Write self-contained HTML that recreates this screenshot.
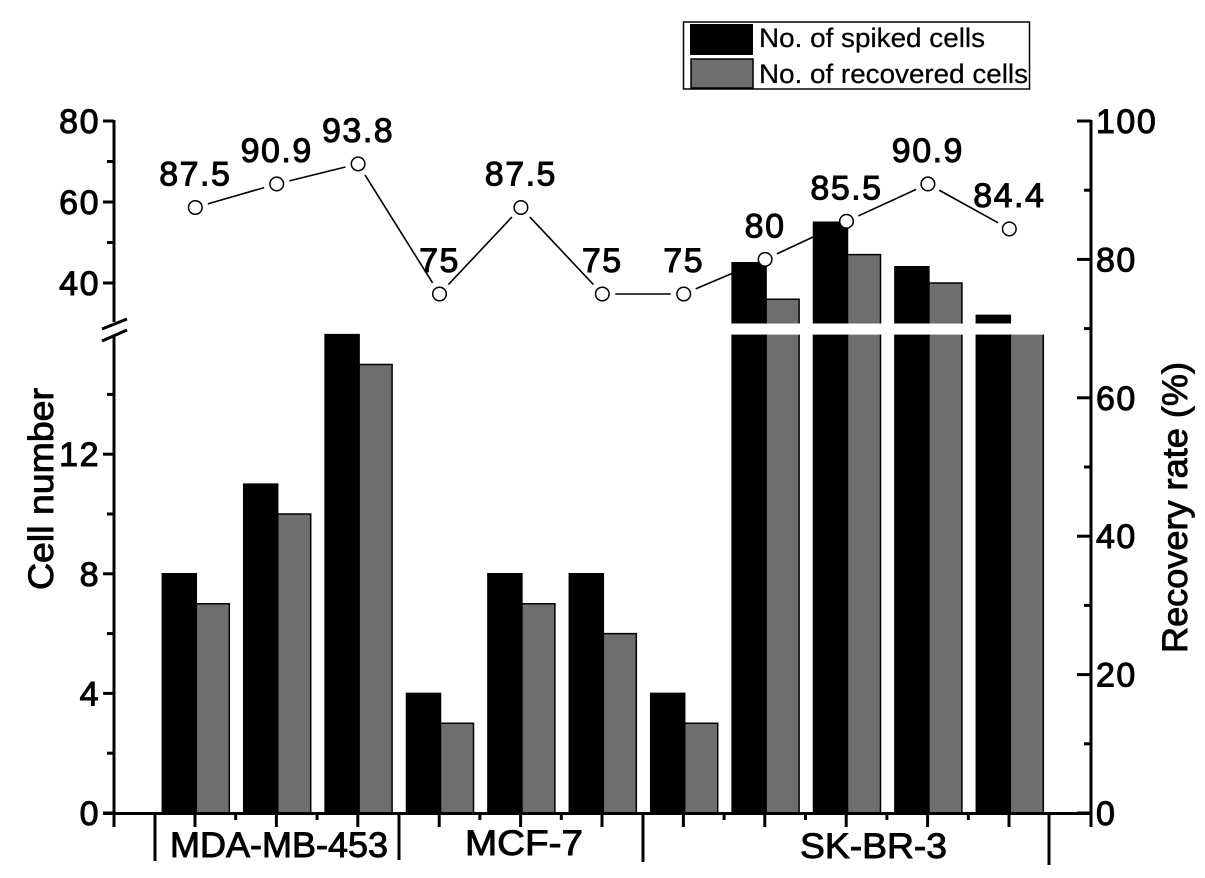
<!DOCTYPE html>
<html>
<head>
<meta charset="utf-8">
<title>Cell number and recovery rate</title>
<style>
html,body{margin:0;padding:0;background:#fff;}
svg{display:block;}
text{font-family:"Liberation Sans",sans-serif;fill:#000;}
.num{font-size:34px;stroke:#000;stroke-width:1px;letter-spacing:1.5px;}
.title{font-size:35px;stroke:#000;stroke-width:.9px;}
.leg{font-size:27px;stroke:#000;stroke-width:.25px;}
</style>
</head>
<body>
<svg id="chart" xmlns="http://www.w3.org/2000/svg" width="1205" height="878" viewBox="0 0 1205 878">
  <rect x="0" y="0" width="1205" height="878" fill="#fff"/>
  <g id="bars"></g>
  <g id="axes" stroke="#000" stroke-width="3" fill="none">
    <line x1="114" y1="120" x2="114" y2="322"/>
    <line x1="114" y1="337" x2="114" y2="827"/>
    <line x1="102" y1="329" x2="127" y2="319"/>
    <line x1="102" y1="341" x2="127" y2="330"/>
    <line x1="1091" y1="120" x2="1091" y2="827"/>
    <line x1="103" y1="813.5" x2="1091" y2="813.5"/>
    <line x1="155" y1="813" x2="155" y2="861"/>
    <line x1="399" y1="813" x2="399" y2="860"/>
    <line x1="643" y1="813" x2="643" y2="862"/>
    <line x1="1049" y1="813" x2="1049" y2="865"/>
  </g>
  <g id="ticks" stroke="#000" stroke-width="3"></g>
  <g id="tick-labels"></g>
  <g id="line-series"></g>
  <text class="title" transform="translate(53,590) rotate(-90)" textLength="202" lengthAdjust="spacingAndGlyphs">Cell number</text>
  <text class="title" transform="translate(1187,653) rotate(-90)" textLength="291" lengthAdjust="spacingAndGlyphs">Recovery rate (%)</text>
  <text class="title" x="170" y="857" textLength="218" lengthAdjust="spacingAndGlyphs">MDA-MB-453</text>
  <text class="title" x="465" y="855" textLength="118" lengthAdjust="spacingAndGlyphs">MCF-7</text>
  <text class="title" x="800" y="858" textLength="147" lengthAdjust="spacingAndGlyphs">SK-BR-3</text>
  <g>
    <rect x="683.5" y="22" width="346" height="67" fill="#fff" stroke="#000" stroke-width="1.5"/>
    <rect x="690" y="24" width="63" height="31" fill="#000"/>
    <rect x="691" y="59" width="62" height="29" fill="#6e6e6e" stroke="#000" stroke-width="1.5"/>
    <text class="leg" x="759" y="47" textLength="226" lengthAdjust="spacingAndGlyphs">No. of spiked cells</text>
    <text class="leg" x="759" y="83" textLength="269" lengthAdjust="spacingAndGlyphs">No. of recovered cells</text>
  </g>
</svg>
<script>
const categories = ["1","2","3","4","5","6","7","8","9","10","11"];
const spikedCells = [8, 11, 16, 4, 8, 8, 4, 45, 55, 44, 32];
const recoveredCells = [7, 10, 15, 3, 7, 6, 3, 36, 47, 40, 27];
const recoveryRate = [87.5, 90.9, 93.8, 75, 87.5, 75, 75, 80, 85.5, 90.9, 84.4];
const rateLabels = ["87.5", "90.9", "93.8", "75", "87.5", "75", "75", "80", "85.5", "90.9", "84.4"];
const leftLowerTicks = [0, 4, 8, 12];
const leftLowerMinorTicks = [2, 6, 10, 14];
const leftUpperTicks = [40, 60, 80];
const leftUpperMinorTicks = [50, 70];
const rightTicks = [0, 20, 40, 60, 80, 100];
const rightMinorTicks = [10, 30, 50, 70, 90];

const NS = 'http://www.w3.org/2000/svg';
const BREAK_LOW = 16;
const BREAK_HIGH = 30;

function yLeft(v) {
  if (v <= BREAK_LOW) return 813 - v * 29.9;
  return 283 - (v - 40) * 4.05;
}
function yRight(v) { return 813 - v * 6.92; }
function xCat(i) { return 195.3 + i * 81.4; }
function make(tag, parent) {
  const el = document.createElementNS(NS, tag);
  parent.appendChild(el);
  return el;
}
function setGeom(el, props) {
  for (const k in props) el.setAttribute(k, props[k]);
}

const barsG = document.getElementById('bars');
const ticksG = document.getElementById('ticks');
const labelsG = document.getElementById('tick-labels');
const lineG = document.getElementById('line-series');

function barOutline(x, w, top, bottom, openTop, openBottom) {
  let d = 'M' + x + ' ' + bottom + 'L' + x + ' ' + top;
  d += (openTop ? 'M' : 'L') + (x + w) + ' ' + top + 'L' + (x + w) + ' ' + bottom;
  if (!openBottom) d += 'L' + x + ' ' + bottom;
  return d;
}
function drawBarPart(parent, x, w, top, bottom, fill, openTop, openBottom, name) {
  const r = make('rect', parent);
  
  
  setGeom(r, {x: x, y: top, width: w, height: bottom - top, fill: fill});
  const o = make('path', parent);
  
  
  setGeom(o, {d: barOutline(x, w, top, bottom, openTop, openBottom), fill: 'none', stroke: '#000', 'stroke-width': 1.5});
}
function drawBar(parent, x, w, value, fill, name) {
  const clipped = value > BREAK_LOW;
  const lowTop = yLeft(Math.min(value, BREAK_LOW));
  drawBarPart(parent, x, w, lowTop, 813, fill, clipped, false, name);
  if (value > BREAK_HIGH) {
    drawBarPart(parent, x, w, yLeft(value), yLeft(BREAK_HIGH), fill, false, true, name + '-upper');
  }
}

categories.forEach(function (c, i) {
  const xc = xCat(i);
  drawBar(barsG, xc - 33, 34, spikedCells[i], '#000', 'bar-spiked-' + c);
  drawBar(barsG, xc + 1, 33, recoveredCells[i], '#6e6e6e', 'bar-recovered-' + c);
});

function hTick(x1, x2, y, name) {
  const t = make('line', ticksG);
  
  
  setGeom(t, {x1: x1, x2: x2, y1: y, y2: y});
}
function vTick(x, y2, name) {
  const t = make('line', ticksG);
  
  
  setGeom(t, {x1: x, x2: x, y1: 813, y2: y2});
}
function numLabel(x, y, str, anchor, name) {
  const t = make('text', labelsG);
  
  
  t.setAttribute('class', 'num');
  setGeom(t, {x: x, y: y + 12, 'text-anchor': anchor});
  t.textContent = str;
}

leftLowerTicks.concat(leftUpperTicks).forEach(function (v) {
  const y = yLeft(v);
  hTick(103, 114, y, 'left-tick-' + v);
  numLabel(100, y, String(v), 'end', 'left-tick-label-' + v);
});
leftLowerMinorTicks.concat(leftUpperMinorTicks).forEach(function (v) {
  hTick(107, 114, yLeft(v), 'left-minor-tick-' + v);
});
rightTicks.forEach(function (v) {
  const y = yRight(v);
  hTick(1077, 1091, y, 'right-tick-' + v);
  numLabel(1096, y, String(v), 'start', 'right-tick-label-' + v);
});
rightMinorTicks.forEach(function (v) {
  hTick(1084, 1091, yRight(v), 'right-minor-tick-' + v);
});

categories.forEach(function (c, i) {
  const xc = xCat(i) - 0.3;
  vTick(xc, 827, 'x-tick-' + c);
  if (i < categories.length - 1 && i !== 2 && i !== 5) {
    vTick(xc + 40.7, 820, 'x-minor-tick-' + c);
  }
});

const GAP = 13;
for (let i = 0; i < recoveryRate.length - 1; i++) {
  const x1 = xCat(i), y1 = yRight(recoveryRate[i]);
  const x2 = xCat(i + 1), y2 = yRight(recoveryRate[i + 1]);
  const len = Math.hypot(x2 - x1, y2 - y1);
  const ux = (x2 - x1) / len, uy = (y2 - y1) / len;
  const seg = make('line', lineG);
  
  
  setGeom(seg, {x1: x1 + ux * GAP, y1: y1 + uy * GAP, x2: x2 - ux * GAP, y2: y2 - uy * GAP, stroke: '#000', 'stroke-width': 1.6});
}
recoveryRate.forEach(function (r, i) {
  const cx = xCat(i), cy = yRight(r);
  const m = make('circle', lineG);
  
  
  setGeom(m, {cx: cx, cy: cy, r: 6.8, fill: '#fff', stroke: '#000', 'stroke-width': 1.5});
  const t = make('text', lineG);
  
  
  t.setAttribute('class', 'num');
  setGeom(t, {x: cx, y: cy - 22, 'text-anchor': 'middle'});
  t.textContent = rateLabels[i];
});
</script>
</body>
</html>
